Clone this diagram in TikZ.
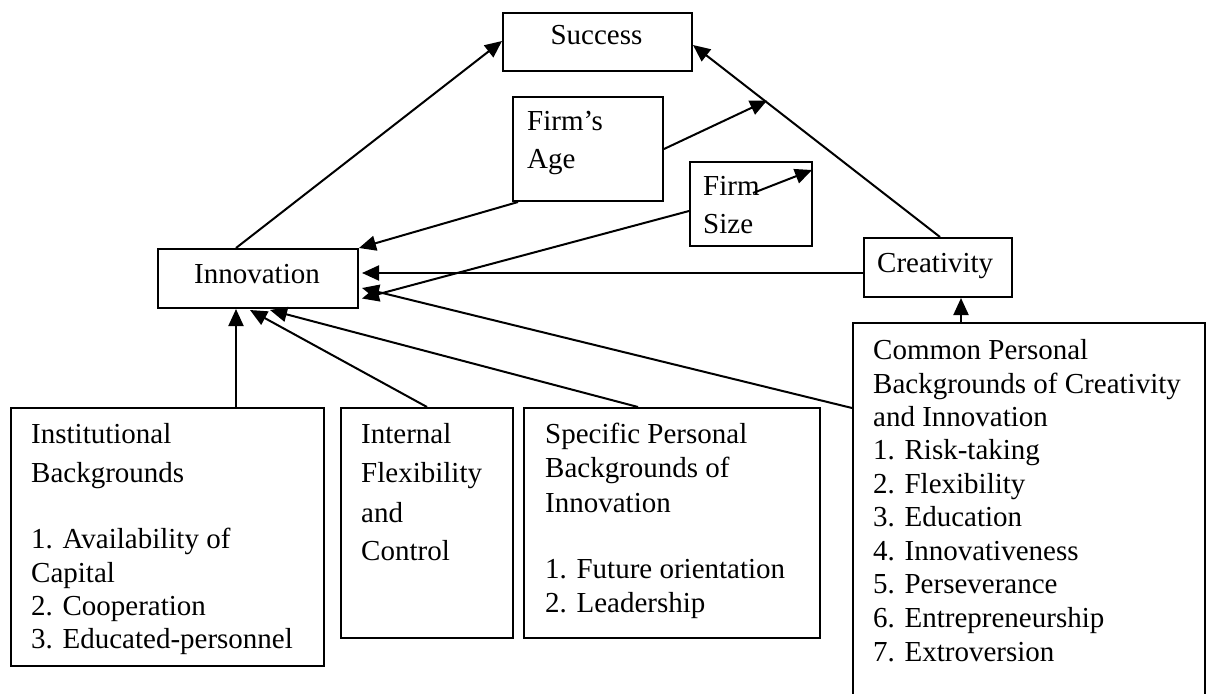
\documentclass[tikz,border=0pt]{standalone}
\usepackage{fontspec}
\setmainfont{Liberation Serif}
\usetikzlibrary{arrows.meta,calc}
\begin{document}
\begin{tikzpicture}[x=1pt,y=-1pt,
  box/.style={draw, line width=2pt, rectangle, inner sep=0pt, anchor=north west},
  lbl/.style={inner sep=0pt, anchor=base west, font=\fontsize{29}{33}\selectfont},
  clbl/.style={lbl, anchor=base},
  link/.style={line width=2pt, -{Triangle[length=17pt,width=15pt]}}]
\useasboundingbox (0,0) rectangle (1206,693);

% boxes
\node[box, minimum width=189pt, minimum height=58pt] (succ) at (502,12) {};
\node[box, minimum width=150pt, minimum height=104pt] (age) at (512,96) {};
\node[box, minimum width=122pt, minimum height=84pt] (size) at (689,161) {};
\node[box, minimum width=200pt, minimum height=59pt] (inno) at (157,248) {};
\node[box, minimum width=148pt, minimum height=59pt] (creat) at (863,237) {};
\node[box, minimum width=313pt, minimum height=258pt] (inst) at (10,407) {};
\node[box, minimum width=172pt, minimum height=230pt] (intl) at (340,407) {};
\node[box, minimum width=296pt, minimum height=230pt] (spec) at (523,407) {};
\node[box, minimum width=352pt, minimum height=400pt] (comm) at (852,322) {};

% labels
\node[clbl] (succ-t) at (596.5,45) {Success};
\node[clbl] (inno-t) at (257,283) {Innovation};
\node[lbl] (creat-t) at (877,272) {Creativity};
\foreach \yy/\s [count=\i] in {130/Firm’s, 168/Age}
  \node[lbl] (age-t\i) at (527,\yy) {\s};
\foreach \yy/\s [count=\i] in {195/Firm, 233/Size}
  \node[lbl] (size-t\i) at (703,\yy) {\s};
\foreach \yy/\s [count=\i] in {443/Institutional, 482/Backgrounds,
    548/1. Availability of, 582/Capital, 615/2. Cooperation, 648/3. Educated-personnel}
  \node[lbl] (inst-t\i) at (31,\yy) {\s};
\foreach \yy/\s [count=\i] in {443/Internal, 482/Flexibility, 522/and, 560/Control}
  \node[lbl] (intl-t\i) at (361,\yy) {\s};
\foreach \yy/\s [count=\i] in {443/Specific Personal, 477/Backgrounds of, 512/Innovation,
    578/1. Future orientation, 612/2. Leadership}
  \node[lbl] (spec-t\i) at (545,\yy) {\s};
\foreach \yy/\s [count=\i] in {359/Common Personal, 393/Backgrounds of Creativity,
    426/and Innovation, 459/1. Risk-taking, 493/2. Flexibility, 526/3. Education,
    560/4. Innovativeness, 593/5. Perseverance, 627/6. Entrepreneurship, 661/7. Extroversion}
  \node[lbl] (comm-t\i) at (873,\yy) {\s};

% connectors
\coordinate (creat-top) at ($(creat.north west)+(77,0)$);
\draw[link] (creat-top) -- ($(succ.east)+(0,3)$);
\coordinate (moderate) at ($(succ.east)!0.3!(creat-top)$);
\draw[link] (age.east) -- (moderate);
\draw[link] ($(inno.north west)+(79,0)$) -- ($(succ.west)+(0,-1)$);
\draw[link] ($(age.south west)+(6,0)$) -- (inno.north east);
\draw[link] ($(size.west)+(0,7)$) -- ($(inno.east)+(3,20)$);
\draw[link] ($(size.north west)+(64,32)$) -- ($(size.north east)+(-1,9)$);
\draw[link] ($(creat.west)+(0,5.5)$) -- ($(inno.east)+(3,-5.5)$);
\draw[link] ($(comm.north west)+(0,86)$) -- ($(inno.east)+(3,9.5)$);
\draw[link] ($(inst.north west)+(226,0)$) -- ($(inno.south west)+(79,0)$);
\draw[link] ($(intl.north west)+(87,0)$) -- ($(inno.south west)+(93,1)$);
\draw[link] ($(spec.north west)+(115,0)$) -- ($(inno.south west)+(113,1)$);
\draw[link] ($(comm.north west)+(109,0)$) -- ($(creat.south west)+(98,0)$);
\end{tikzpicture}
\end{document}
